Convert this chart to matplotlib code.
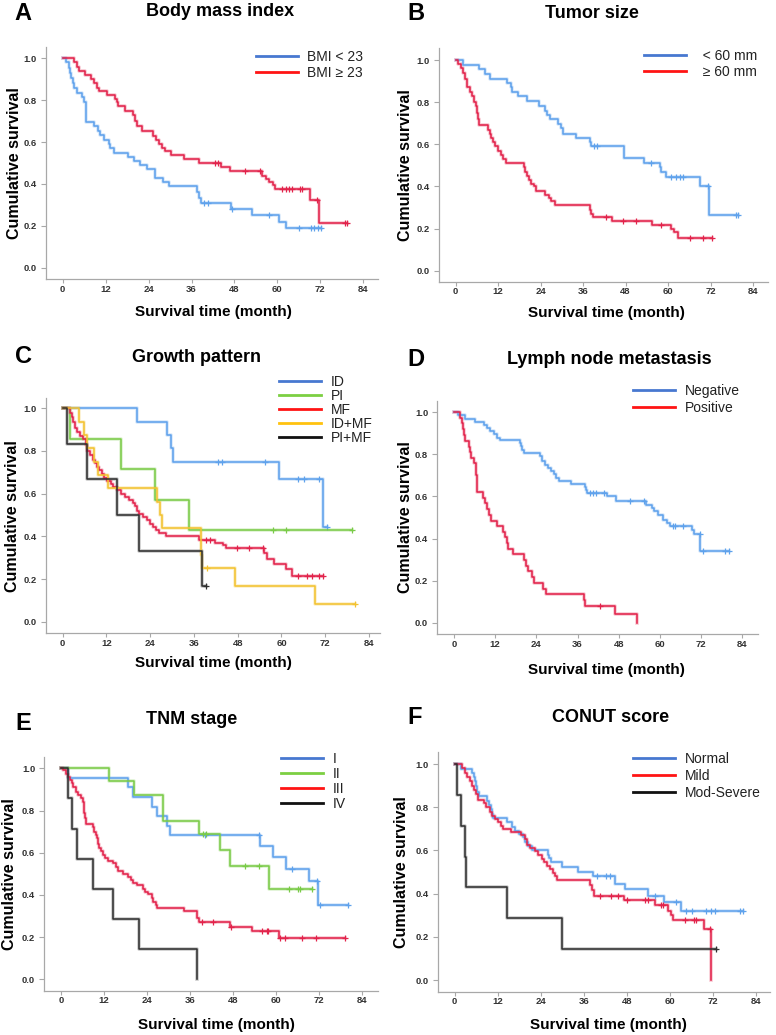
import numpy as np
import matplotlib.pyplot as plt
from matplotlib.lines import Line2D

plt.rcParams['font.family'] = ['Liberation Sans', 'DejaVu Sans']

# ---------------- data (months, cumulative survival, censor times) ----------------
# A - Body mass index
a_blue_t = [0, 0.84, 1.8, 2.05, 2.4, 2.8, 3.2, 3.9, 5.3, 6.0, 6.5, 8.85, 9.8, 10.4, 11.6, 12.8, 13.2, 14.3,
            18.3, 20.0, 21.6, 23.5, 25.8, 28.1, 29.8, 37.6, 38.1, 38.6, 47.0, 53.0, 60.5, 62.4]
a_blue_s = [1.0, 0.98, 0.955, 0.93, 0.905, 0.88, 0.86, 0.835, 0.815, 0.79, 0.695, 0.675, 0.655, 0.635, 0.61,
            0.59, 0.57, 0.55, 0.53, 0.51, 0.49, 0.47, 0.43, 0.41, 0.39, 0.36, 0.335, 0.31, 0.28, 0.25, 0.22, 0.19]
a_blue_c = [39.5, 40.5, 47.3, 57.7, 66.0, 69.5, 70.2, 71.3, 72.3]
a_red_t = [0, 3.17, 3.9, 4.56, 6.24, 7.82, 8.75, 9.5, 10.15, 12.3, 14.6, 15.1, 15.55, 17.4, 19.7, 20.2, 20.7,
           22.1, 25.1, 26.1, 27.0, 27.65, 28.6, 30.2, 33.9, 38.1, 44.1, 46.7, 55.6, 56.8, 57.7, 58.8, 59.3,
           69.1, 71.6]
a_red_s = [1.0, 0.98, 0.96, 0.94, 0.92, 0.90, 0.88, 0.86, 0.845, 0.825, 0.805, 0.79, 0.77, 0.75, 0.73, 0.70,
           0.675, 0.655, 0.63, 0.61, 0.59, 0.57, 0.555, 0.54, 0.52, 0.50, 0.48, 0.46, 0.44, 0.425, 0.41, 0.395,
           0.377, 0.325, 0.215]
a_red_c = [42.5, 43.5, 51.0, 55.1, 61.2, 62.4, 63.3, 64.2, 66.3, 67.0, 71.0, 78.9, 79.5]

# B - Tumor size
b_blue_t = [0, 2.07, 6.5, 8.2, 9.6, 14.6, 15.5, 15.9, 17.6, 20.2, 23.5, 25.1, 25.9, 26.6, 28.9, 29.7, 30.3,
            34.1, 37.9, 38.3, 47.5, 53.2, 57.6, 58.1, 59.3, 69.1, 71.6]
b_blue_s = [1.0, 0.978, 0.955, 0.935, 0.91, 0.89, 0.87, 0.85, 0.83, 0.805, 0.78, 0.76, 0.74, 0.72, 0.695,
            0.675, 0.65, 0.63, 0.61, 0.59, 0.535, 0.51, 0.49, 0.47, 0.447, 0.40, 0.265]
b_blue_c = [39.1, 40.0, 55.3, 60.9, 62.3, 63.4, 64.2, 71.3, 79.3, 79.9]
b_red_t = [0, 0.66, 1.41, 2.07, 2.73, 3.2, 3.95, 4.6, 5.2, 5.65, 6.1, 6.4, 6.6, 9.1, 9.6, 10.1, 10.5, 11.2,
           12.0, 12.7, 13.4, 14.3, 19.3, 19.7, 20.2, 20.7, 21.4, 22.1, 22.8, 25.3, 26.3, 27.0, 28.0, 38.0,
           38.3, 38.8, 44.3, 55.5, 60.9, 61.7, 62.8]
b_red_s = [1.0, 0.98, 0.96, 0.94, 0.91, 0.87, 0.85, 0.83, 0.80, 0.78, 0.75, 0.72, 0.69, 0.67, 0.65, 0.63,
           0.61, 0.59, 0.57, 0.55, 0.53, 0.51, 0.49, 0.47, 0.45, 0.43, 0.41, 0.40, 0.38, 0.36, 0.345, 0.33,
           0.31, 0.29, 0.27, 0.255, 0.235, 0.215, 0.20, 0.185, 0.155]
b_red_c = [42.6, 47.3, 51.0, 58.1, 66.1, 69.9, 72.4]

# C - Growth pattern
c_id_t = [0, 20.3, 28.5, 29.6, 30.2, 59.4, 71.3]
c_id_s = [1.0, 0.9375, 0.875, 0.8125, 0.75, 0.667, 0.444]
c_id_c = [42.7, 43.6, 55.5, 64.6, 66.2, 70.4, 72.4]
c_pi_t = [0, 2.0, 15.9, 25.3, 34.5]
c_pi_s = [1.0, 0.857, 0.714, 0.571, 0.429]
c_pi_c = [57.6, 61.2, 79.3]
c_mf_t = [0, 2.0, 2.5, 2.9, 3.4, 4.0, 4.75, 5.5, 6.4, 6.8, 7.5, 8.2, 8.9, 9.5, 10.05, 10.7, 11.3, 12.2, 13.2,
          13.9, 14.8, 15.9, 17.1, 18.3, 19.2, 19.7, 20.3, 21.0, 22.1, 23.0, 23.9, 24.9, 25.6, 26.5, 28.3,
          37.5, 41.8, 43.9, 44.8, 55.3, 55.9, 58.0, 61.2, 62.8]
c_mf_s = [1.0, 0.98, 0.96, 0.935, 0.91, 0.89, 0.87, 0.855, 0.83, 0.80, 0.78, 0.76, 0.745, 0.725, 0.71, 0.69,
          0.675, 0.66, 0.645, 0.63, 0.615, 0.60, 0.585, 0.57, 0.555, 0.54, 0.52, 0.505, 0.49, 0.475, 0.46,
          0.445, 0.43, 0.415, 0.40, 0.385, 0.37, 0.36, 0.345, 0.32, 0.295, 0.27, 0.245, 0.215]
c_mf_c = [39.3, 40.4, 47.9, 51.2, 55.0, 64.6, 66.9, 68.3, 70.3, 71.3]
c_idmf_t = [0, 4.6, 5.9, 6.8, 8.7, 9.8, 12.5, 25.8, 26.6, 27.1, 37.8, 37.9, 38.1, 47.3, 69.2]
c_idmf_s = [1.0, 0.9375, 0.875, 0.8125, 0.75, 0.6875, 0.625, 0.5625, 0.5, 0.4375, 0.375, 0.3125, 0.25,
            0.167, 0.083]
c_idmf_c = [39.7, 80.2]
c_pimf_t = [0, 1.1, 6.8, 14.8, 21.0, 38.1]
c_pimf_s = [1.0, 0.833, 0.667, 0.5, 0.333, 0.167]
c_pimf_c = [39.3]

# D - Lymph node metastasis
d_neg_t = [0, 1.17, 3.1, 6.0, 8.7, 9.7, 10.4, 11.8, 12.6, 13.3, 19.1, 19.6, 19.9, 20.4, 25.2, 25.6, 26.4,
           27.4, 28.3, 29.1, 29.8, 30.5, 34.2, 38.1, 38.5, 38.8, 44.7, 47.1, 56.0, 57.7, 58.3, 59.4, 60.9,
           62.1, 62.8, 69.3, 69.9, 71.7]
d_neg_s = [1.0, 0.985, 0.97, 0.955, 0.94, 0.925, 0.91, 0.895, 0.88, 0.87, 0.855, 0.84, 0.82, 0.805, 0.79,
           0.77, 0.75, 0.735, 0.72, 0.705, 0.69, 0.675, 0.66, 0.645, 0.63, 0.615, 0.60, 0.58, 0.56, 0.545,
           0.53, 0.51, 0.49, 0.475, 0.46, 0.44, 0.42, 0.34]
d_neg_c = [39.5, 40.5, 41.5, 43.7, 51.2, 55.5, 63.8, 64.5, 66.7, 71.6, 72.5, 79.0, 80.0]
d_pos_t = [0, 1.65, 2.3, 2.6, 2.9, 3.3, 4.3, 4.6, 5.05, 5.8, 6.3, 6.5, 6.6, 6.8, 8.45, 8.9, 9.7, 10.1, 10.7,
           12.6, 14.3, 15.0, 15.3, 15.7, 17.2, 20.3, 20.9, 21.6, 22.7, 23.3, 25.9, 26.9, 37.8, 38.1, 47.0,
           53.4]
d_pos_s = [1.0, 0.975, 0.95, 0.92, 0.89, 0.865, 0.835, 0.81, 0.785, 0.76, 0.73, 0.70, 0.65, 0.62, 0.595,
           0.57, 0.54, 0.51, 0.485, 0.46, 0.43, 0.405, 0.38, 0.35, 0.325, 0.30, 0.27, 0.245, 0.215, 0.19,
           0.16, 0.135, 0.11, 0.08, 0.04, 0.0]
d_pos_c = [42.4]

# E - TNM stage
e_1_t = [0, 2.0, 18.8, 20.2, 25.3, 26.7, 29.5, 30.4, 55.6, 59.3, 62.8, 69.4, 71.9]
e_1_s = [1.0, 0.955, 0.91, 0.864, 0.818, 0.773, 0.727, 0.682, 0.63, 0.578, 0.525, 0.467, 0.35]
e_1_c = [40.2, 55.4, 64.4, 71.4, 72.3, 80.3]
e_2_t = [0, 13.5, 20.4, 28.4, 28.6, 38.5, 44.4, 47.2, 58.2]
e_2_s = [1.0, 0.9375, 0.875, 0.8125, 0.75, 0.6875, 0.611, 0.535, 0.428]
e_2_c = [39.8, 40.5, 51.4, 55.4, 63.8, 66.3, 66.8, 70.0]
e_3_t = [0, 0.65, 1.3, 2.05, 2.5, 3.0, 3.45, 4.2, 4.85, 5.5, 6.05, 6.4, 6.7, 7.0, 8.85, 9.2, 9.7, 10.0, 10.2,
         10.7, 11.2, 11.8, 12.3, 13.2, 14.4, 15.4, 15.8, 17.4, 18.8, 19.6, 20.2, 21.1, 22.8, 23.5, 24.4,
         25.3, 25.8, 26.5, 26.9, 34.4, 37.9, 38.1, 38.6, 47.2, 53.4, 61.0]
e_3_s = [1.0, 0.99, 0.975, 0.96, 0.945, 0.93, 0.91, 0.89, 0.875, 0.86, 0.84, 0.79, 0.765, 0.735, 0.72, 0.70,
         0.685, 0.67, 0.64, 0.62, 0.61, 0.59, 0.575, 0.56, 0.55, 0.53, 0.515, 0.50, 0.485, 0.47, 0.455,
         0.445, 0.43, 0.415, 0.405, 0.385, 0.365, 0.35, 0.34, 0.325, 0.31, 0.29, 0.27, 0.25, 0.23, 0.195]
e_3_c = [39.3, 42.6, 47.4, 56.1, 57.5, 57.9, 61.2, 62.6, 67.2, 71.2, 79.3]
e_4_t = [0, 2.0, 3.0, 4.6, 8.8, 14.6, 21.9, 37.9]
e_4_s = [1.0, 0.857, 0.714, 0.571, 0.429, 0.286, 0.143, 0.0]
e_4_c = []

# F - CONUT score
f_norm_t = [0, 1.86, 4.8, 5.4, 5.75, 6.0, 6.3, 6.7, 9.1, 9.6, 10.0, 10.4, 10.7, 14.7, 16.0, 16.9, 17.8,
            19.0, 19.7, 20.4, 21.4, 26.0, 26.3, 26.7, 29.9, 34.4, 38.5, 44.6, 47.4, 53.7, 58.3, 62.9]
f_norm_s = [1.0, 0.975, 0.96, 0.94, 0.92, 0.90, 0.87, 0.85, 0.83, 0.81, 0.79, 0.77, 0.75, 0.73, 0.71, 0.69,
            0.675, 0.66, 0.64, 0.62, 0.60, 0.58, 0.565, 0.545, 0.525, 0.50, 0.48, 0.445, 0.42, 0.39, 0.36,
            0.32]
f_norm_c = [39.7, 42.2, 43.2, 55.7, 61.5, 64.5, 66.1, 70.1, 71.5, 72.6, 79.4, 80.3]
f_mild_t = [0, 2.04, 2.97, 3.5, 4.2, 4.8, 5.4, 6.0, 6.5, 8.1, 8.8, 9.75, 10.5, 11.1, 12.1, 13.0, 13.5, 15.8,
            18.6, 19.5, 20.0, 20.2, 20.9, 22.3, 23.2, 24.3, 24.9, 25.8, 26.5, 27.4, 28.0, 28.6, 37.8, 38.3,
            38.8, 47.1, 55.7, 59.4, 60.2, 60.8, 69.5, 71.5]
f_mild_s = [1.0, 0.98, 0.96, 0.94, 0.92, 0.90, 0.88, 0.86, 0.835, 0.82, 0.80, 0.78, 0.76, 0.745, 0.73, 0.715,
            0.70, 0.685, 0.67, 0.655, 0.64, 0.625, 0.61, 0.595, 0.58, 0.56, 0.545, 0.53, 0.515, 0.495, 0.48,
            0.465, 0.44, 0.415, 0.39, 0.37, 0.345, 0.32, 0.30, 0.28, 0.235, 0.0]
f_mild_c = [40.4, 43.5, 45.5, 48.1, 52.9, 53.9, 57.4, 58.0, 64.1, 66.7, 67.3, 71.0]
f_sev_t = [0, 0.65, 1.7, 3.0, 3.25, 14.7, 29.9]
f_sev_s = [1.0, 0.857, 0.714, 0.571, 0.429, 0.286, 0.143]
f_sev_c = [72.7]

BLUE, RED, GREEN, YELLOW, BLACK = '#5fa2ec', '#e2234b', '#7acb48', '#f3c230', '#303030'
LEG = {'blue': '#4778d0', 'red': '#ff1414', 'green': '#7ccf42', 'yellow': '#ffc20e', 'black': '#111111'}

W, H = 776, 1035
fig = plt.figure(figsize=(W / 100, H / 100), dpi=100)


def fx(x):
    return x / W


def fy(y):
    return 1 - y / H


def km(ax, t, s, cens, color):
    t = np.asarray(t, float)
    s = np.asarray(s, float)
    end = max([t[-1]] + list(cens))
    xs, ys = np.append(t, end), np.append(s, s[-1])
    # soft halo like the original export, then the line itself
    ax.step(xs, ys, where='post', color=color, lw=2.6, alpha=0.25, zorder=2)
    ax.step(xs, ys, where='post', color=color, lw=1.15, zorder=3)
    if len(cens):
        c = np.asarray(cens, float)
        cs = s[np.searchsorted(t, c, side='right') - 1]
        ax.plot(c, cs, '+', color=color, ms=4, mew=0.9, zorder=3)


# layout: (left, right, top, bottom, x0 px, x84 px, y1.0 px, y0.0 px)
panels = [
    dict(letter='A', title='Body mass index', box=(45.7, 378, 46.7, 279, 62.7, 363.3, 58.3, 267.7),
         title_xy=(220, 12), letter_xy=(23, 14), ylab_x=15, xlab_xy=(213, 312),
         curves=[(a_blue_t, a_blue_s, a_blue_c, BLUE), (a_red_t, a_red_s, a_red_c, RED)],
         legend=(['BMI < 23', 'BMI ≥ 23'], ['blue', 'red'], 256, 50, 0.17)),
    dict(letter='B', title='Tumor size', box=(438.7, 768, 48, 281.7, 455.7, 753, 60, 270.7),
         title_xy=(592, 13), letter_xy=(416, 14), ylab_x=406, xlab_xy=(606, 313),
         curves=[(b_blue_t, b_blue_s, b_blue_c, BLUE), (b_red_t, b_red_s, b_red_c, RED)],
         legend=(['  < 60 mm', '  ≥ 60 mm'], ['blue', 'red'], 644, 49, 0.17)),
    dict(letter='C', title='Growth pattern', box=(45.7, 380, 398, 633.3, 62.7, 369, 408.3, 621.7),
         title_xy=(197, 358), letter_xy=(23, 357), ylab_x=13, xlab_xy=(213, 663),
         curves=[(c_id_t, c_id_s, c_id_c, BLUE), (c_pi_t, c_pi_s, c_pi_c, GREEN),
                 (c_mf_t, c_mf_s, c_mf_c, RED), (c_idmf_t, c_idmf_s, c_idmf_c, YELLOW),
                 (c_pimf_t, c_pimf_s, c_pimf_c, BLACK)],
         legend=(['ID', 'PI', 'MF', 'ID+MF', 'PI+MF'], ['blue', 'green', 'red', 'yellow', 'black'],
                 279, 374.5, 0.0)),
    dict(letter='D', title='Lymph node metastasis', box=(437.3, 758, 401, 634, 454, 742.3, 412.3, 622.7),
         title_xy=(609, 360), letter_xy=(416, 360), ylab_x=405, xlab_xy=(606, 670),
         curves=[(d_neg_t, d_neg_s, d_neg_c, BLUE), (d_pos_t, d_pos_s, d_pos_c, RED)],
         legend=(['Negative', 'Positive'], ['blue', 'red'], 633, 384, 0.22)),
    dict(letter='E', title='TNM stage', box=(44.3, 378, 757, 990.7, 61, 361.7, 768.3, 979.3),
         title_xy=(192, 719), letter_xy=(23, 723), ylab_x=10, xlab_xy=(216, 1025),
         curves=[(e_1_t, e_1_s, e_1_c, BLUE), (e_2_t, e_2_s, e_2_c, GREEN),
                 (e_3_t, e_3_s, e_3_c, RED), (e_4_t, e_4_s, e_4_c, BLACK)],
         legend=(['I', 'II', 'III', 'IV'], ['blue', 'green', 'red', 'black'], 281, 752, 0.08)),
    dict(letter='F', title='CONUT score', box=(438, 769.7, 751.7, 991.7, 454.7, 756.3, 764, 980),
         title_xy=(611, 718), letter_xy=(415, 718), ylab_x=401, xlab_xy=(608, 1025),
         curves=[(f_norm_t, f_norm_s, f_norm_c, BLUE), (f_mild_t, f_mild_s, f_mild_c, RED),
                 (f_sev_t, f_sev_s, f_sev_c, BLACK)],
         legend=(['Normal', 'Mild', 'Mod-Severe'], ['blue', 'red', 'black'], 633, 752, 0.22)),
]

for p in panels:
    left, right, top, bottom, x0, x84, y1, y0 = p['box']
    ax = fig.add_axes([fx(left), fy(bottom), (right - left) / W, (bottom - top) / H])
    kx = (x84 - x0) / 84
    ax.set_xlim((left - x0) / kx, (right - x0) / kx)
    ky = y0 - y1
    ax.set_ylim((y0 - bottom) / ky, (y0 - top) / ky)

    for t, s, c, col in p['curves']:
        km(ax, t, s, c, col)

    ax.set_xticks(range(0, 85, 12))
    ax.set_yticks(np.arange(0, 1.01, 0.2))
    ax.set_yticklabels(['%.1f' % v for v in np.arange(0, 1.01, 0.2)])
    for lab in ax.get_xticklabels() + ax.get_yticklabels():
        lab.set_fontweight('bold')
    ax.tick_params(axis='both', direction='out', color='#a8a8a8', width=0.8,
                   labelsize=6.8, labelcolor='#333333')
    ax.tick_params(axis='x', length=3.2, pad=0.8)
    ax.tick_params(axis='y', length=3.6, pad=3.0)
    for side in ['top', 'right']:
        ax.spines[side].set_visible(False)
    for side in ['left', 'bottom']:
        ax.spines[side].set_color('#a8a8a8')
        ax.spines[side].set_linewidth(0.9)

    labels, cols, lx, ly, lsp = p['legend']
    handles = [Line2D([], [], color=LEG[c], lw=2.0) for c in cols]
    ax.legend(handles, labels, loc='upper left', bbox_to_anchor=(fx(lx), fy(ly)),
              bbox_transform=fig.transFigure, frameon=False, fontsize=10, handlelength=3.0,
              handletextpad=0.7, labelspacing=lsp, borderpad=0, borderaxespad=0, labelcolor='#222222')

    fig.text(fx(p['title_xy'][0]), fy(p['title_xy'][1]), p['title'], ha='center', va='center',
             fontsize=13, fontweight='bold')
    fig.text(fx(p['letter_xy'][0]), fy(p['letter_xy'][1]), p['letter'], ha='center', va='center',
             fontsize=17, fontweight='bold')
    fig.text(fx(p['ylab_x']), fy((top + bottom) / 2), 'Cumulative survival', rotation=90,
             ha='center', va='center', fontsize=11.5, fontweight='bold')
    fig.text(fx(p['xlab_xy'][0]), fy(p['xlab_xy'][1]), 'Survival time (month)', ha='center',
             va='center', fontsize=11, fontweight='bold')

fig.savefig('out.png', dpi=100)
